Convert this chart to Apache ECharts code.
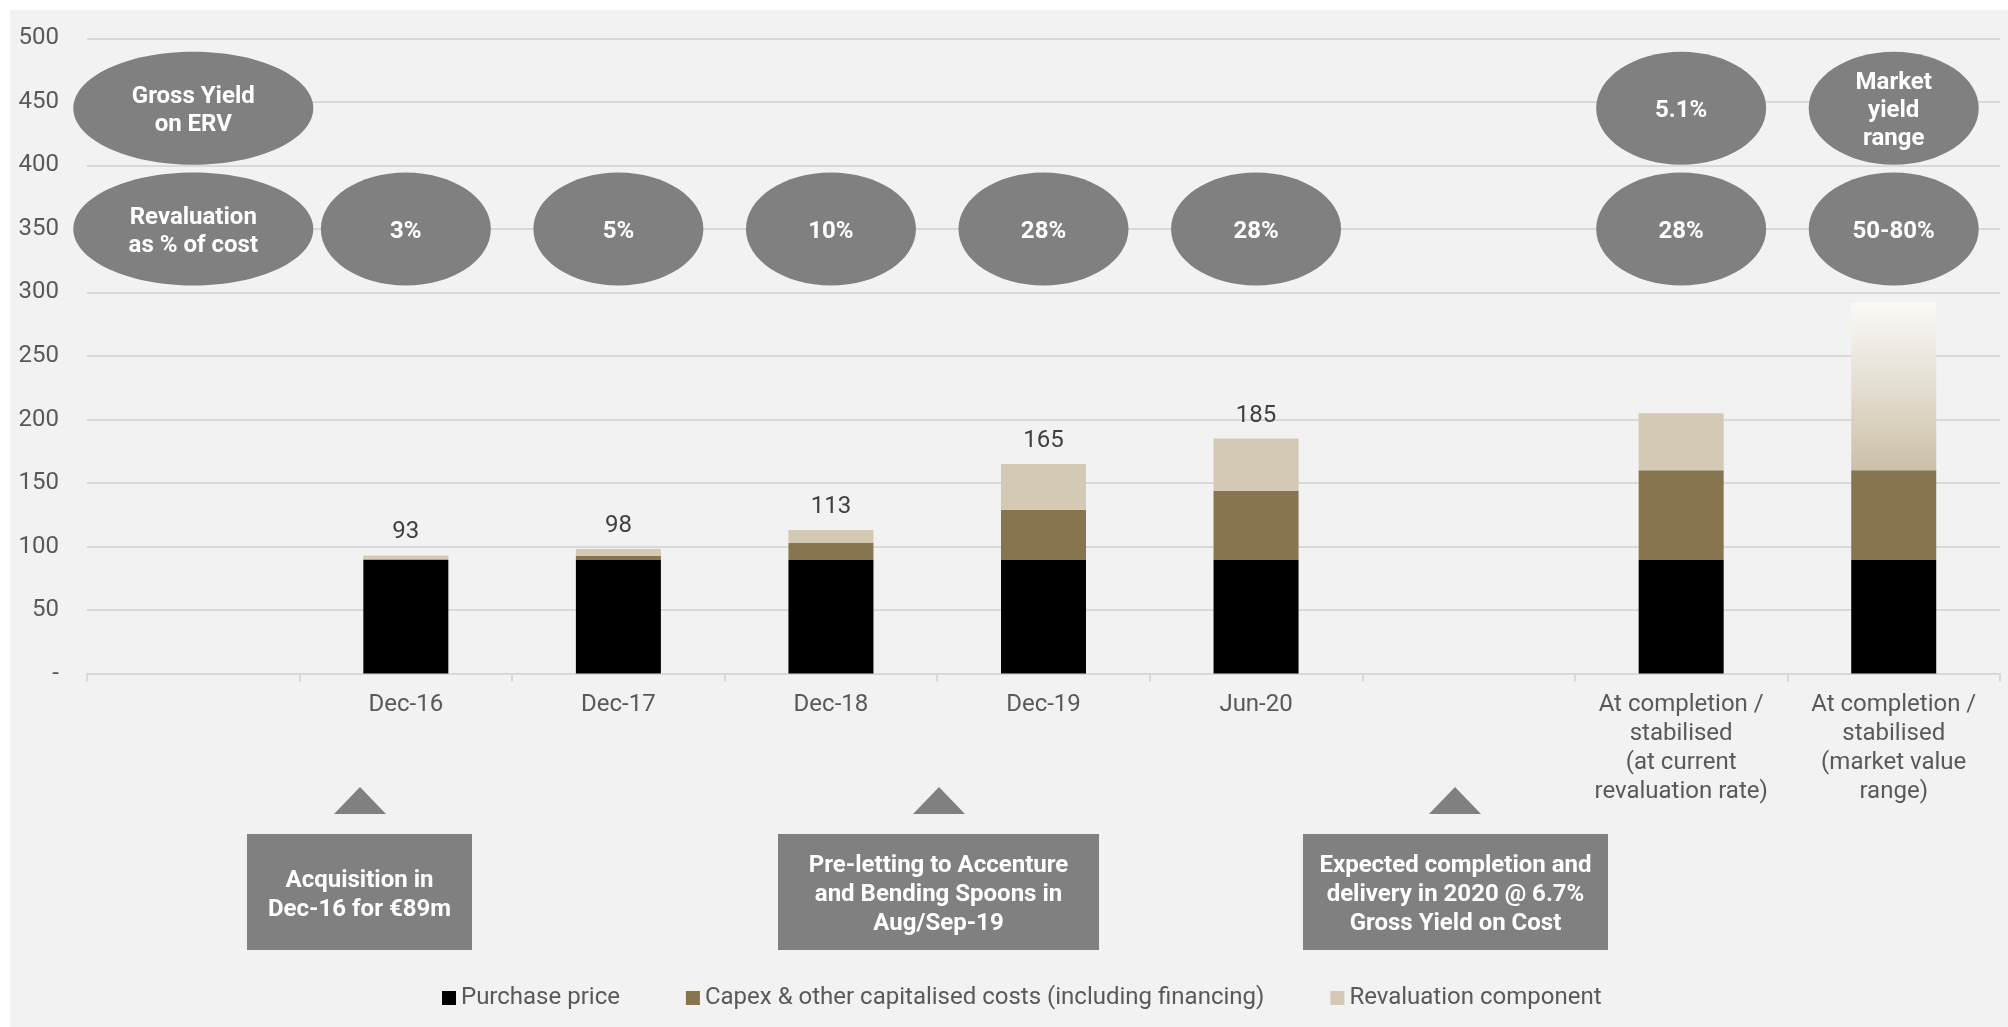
<!DOCTYPE html>
<html>
<head>
<meta charset="utf-8">
<script src="https://cdn.jsdelivr.net/npm/echarts@6/dist/echarts.min.js"></script>
<style>
  html, body { margin: 0; padding: 0; background: #ffffff; }
  #chart { width: 2008px; height: 1027px; }
</style>
</head>
<body>
<div id="chart"></div>
<script>
// ---- Data ----
const categories = ['', 'Dec-16', 'Dec-17', 'Dec-18', 'Dec-19', 'Jun-20', '',
  'At completion /\nstabilised\n(at current\nrevaluation rate)',
  'At completion /\nstabilised\n(market value\nrange)'];
const purchasePrice = [null, 89.5, 89.5, 89.5, 89.5, 89.5, null, 89.5, 89.5];
const capexCosts    = [null, 0.5, 3.2, 13.3, 39.5, 54.5, null, 70.5, 70.5];
const revaluation   = [null, 3, 5.3, 10.2, 36, 41, null, 45, 132];
const totalLabels   = ['', '93', '98', '113', '165', '185', '', '', ''];
const revalPctLabels = ['Revaluation\nas % of cost', '3%', '5%', '10%', '28%', '28%', '', '28%', '50-80%'];
const grossYieldLabels = ['Gross Yield\non ERV', '', '', '', '', '', '', '5.1%', 'Market\nyield\nrange'];
const yAxisTicks = [0, 50, 100, 150, 200, 250, 300, 350, 400, 450, 500];
const seriesNames = ['Purchase price', 'Capex & other capitalised costs (including financing)', 'Revaluation component'];
const milestoneTexts = ['Acquisition in\nDec-16 for €89m',
  'Pre-letting to Accenture\nand Bending Spoons in\nAug/Sep-19',
  'Expected completion and\ndelivery in 2020 @ 6.7%\nGross Yield on Cost'];
const revalRowLevel = 350;
const yieldRowLevel = 445;

// ---- Styling ----
const FONT = 'Roboto';
const GRAY = '#808080';
const ELLIPSE = 'path://M50,0 C77.6,0 100,22.4 100,50 C100,77.6 77.6,100 50,100 C22.4,100 0,77.6 0,50 C0,22.4 22.4,0 50,0 Z';

function ellipseData(labels, level) {
  const out = [];
  labels.forEach((t, i) => {
    if (!t) return;
    out.push({ name: t, value: [i, level], symbolSize: i === 0 ? [240, 113] : [170, 113] });
  });
  return out;
}

const revalData = revaluation.map((v, i) => {
  if (i === 8) {
    return {
      value: v,
      itemStyle: {
        color: { type: 'linear', x: 0, y: 0, x2: 0, y2: 1,
          colorStops: [{ offset: 0, color: '#faf9f6' }, { offset: 0.5, color: '#e4ded2' }, { offset: 1, color: '#cbc0a7' }] }
      }
    };
  }
  return v;
});

const chart = echarts.init(document.getElementById('chart'), null, { renderer: 'canvas' });

const milestoneBoxes = [
  { x: 247, w: 225 },
  { x: 778, w: 321 },
  { x: 1303, w: 305 }
];
const triangleCenters = [360, 939, 1455];

const graphics = [
  { type: 'rect', shape: { x: 0, y: 0, width: 2008, height: 10 }, style: { fill: '#ffffff' }, silent: true },
  { type: 'rect', shape: { x: 0, y: 0, width: 10, height: 1027 }, style: { fill: '#ffffff' }, silent: true }
];
milestoneBoxes.forEach((b, i) => {
  graphics.push({ type: 'rect', shape: { x: b.x, y: 834, width: b.w, height: 116 }, style: { fill: GRAY }, silent: true });
  graphics.push({ type: 'text', x: b.x + b.w / 2, y: 895, silent: true,
    style: { text: milestoneTexts[i], fill: '#ffffff', font: 'bold 24px ' + FONT, align: 'center', verticalAlign: 'middle', lineHeight: 29 } });
});
triangleCenters.forEach(cx => {
  graphics.push({ type: 'polygon', shape: { points: [[cx, 787], [cx + 26, 814], [cx - 26, 814]] }, style: { fill: GRAY }, silent: true });
});

const option = {
  backgroundColor: '#f2f2f2',
  animation: false,
  textStyle: { fontFamily: FONT },
  grid: { left: 87, right: 8, top: 38.4, bottom: 353.4, containLabel: false },
  legend: {
    data: seriesNames,
    left: 437,
    top: 981,
    itemWidth: 14,
    itemHeight: 14,
    itemGap: 66,
    icon: 'rect',
    textStyle: { fontSize: 24, color: '#595959', fontFamily: FONT }
  },
  xAxis: {
    type: 'category',
    data: categories,
    axisLine: { lineStyle: { color: '#d9d9d9', width: 2 } },
    axisTick: { show: true, length: 8, lineStyle: { color: '#d9d9d9', width: 2 } },
    axisLabel: { interval: 0, fontSize: 24, color: '#595959', lineHeight: 29, margin: 17, fontFamily: FONT }
  },
  yAxis: {
    type: 'value',
    min: yAxisTicks[0],
    max: yAxisTicks[yAxisTicks.length - 1],
    interval: yAxisTicks[1] - yAxisTicks[0],
    axisLine: { show: false },
    axisTick: { show: false },
    splitLine: { lineStyle: { color: '#d9d9d9', width: 2 } },
    axisLabel: { fontSize: 24, color: '#595959', margin: 28, fontFamily: FONT,
      formatter: v => (v === 0 ? '-' : String(v)) }
  },
  series: [
    { name: seriesNames[0], type: 'bar', stack: 'total', barWidth: 85, data: purchasePrice, itemStyle: { color: '#000000' } },
    { name: seriesNames[1], type: 'bar', stack: 'total', barWidth: 85, data: capexCosts, itemStyle: { color: '#86754f' } },
    { name: seriesNames[2], type: 'bar', stack: 'total', barWidth: 85, data: revalData, itemStyle: { color: '#d4c9b4' },
      label: { show: true, position: 'top', distance: 11, fontSize: 24, color: '#404040', fontFamily: FONT,
        formatter: p => totalLabels[p.dataIndex] } },
    { name: 'revalRow', type: 'scatter', clip: false, symbol: ELLIPSE, z: 5,
      data: ellipseData(revalPctLabels, revalRowLevel), itemStyle: { color: GRAY, opacity: 1 },
      label: { show: true, position: 'inside', offset: [0, 3], formatter: '{b}', color: '#ffffff', fontWeight: 'bold', fontSize: 24, lineHeight: 28, fontFamily: FONT } },
    { name: 'yieldRow', type: 'scatter', clip: false, symbol: ELLIPSE, z: 5,
      data: ellipseData(grossYieldLabels, yieldRowLevel), itemStyle: { color: GRAY, opacity: 1 },
      label: { show: true, position: 'inside', offset: [0, 3], formatter: '{b}', color: '#ffffff', fontWeight: 'bold', fontSize: 24, lineHeight: 28, fontFamily: FONT } }
  ],
  graphic: graphics
};

chart.setOption(option);
</script>
</body>
</html>
